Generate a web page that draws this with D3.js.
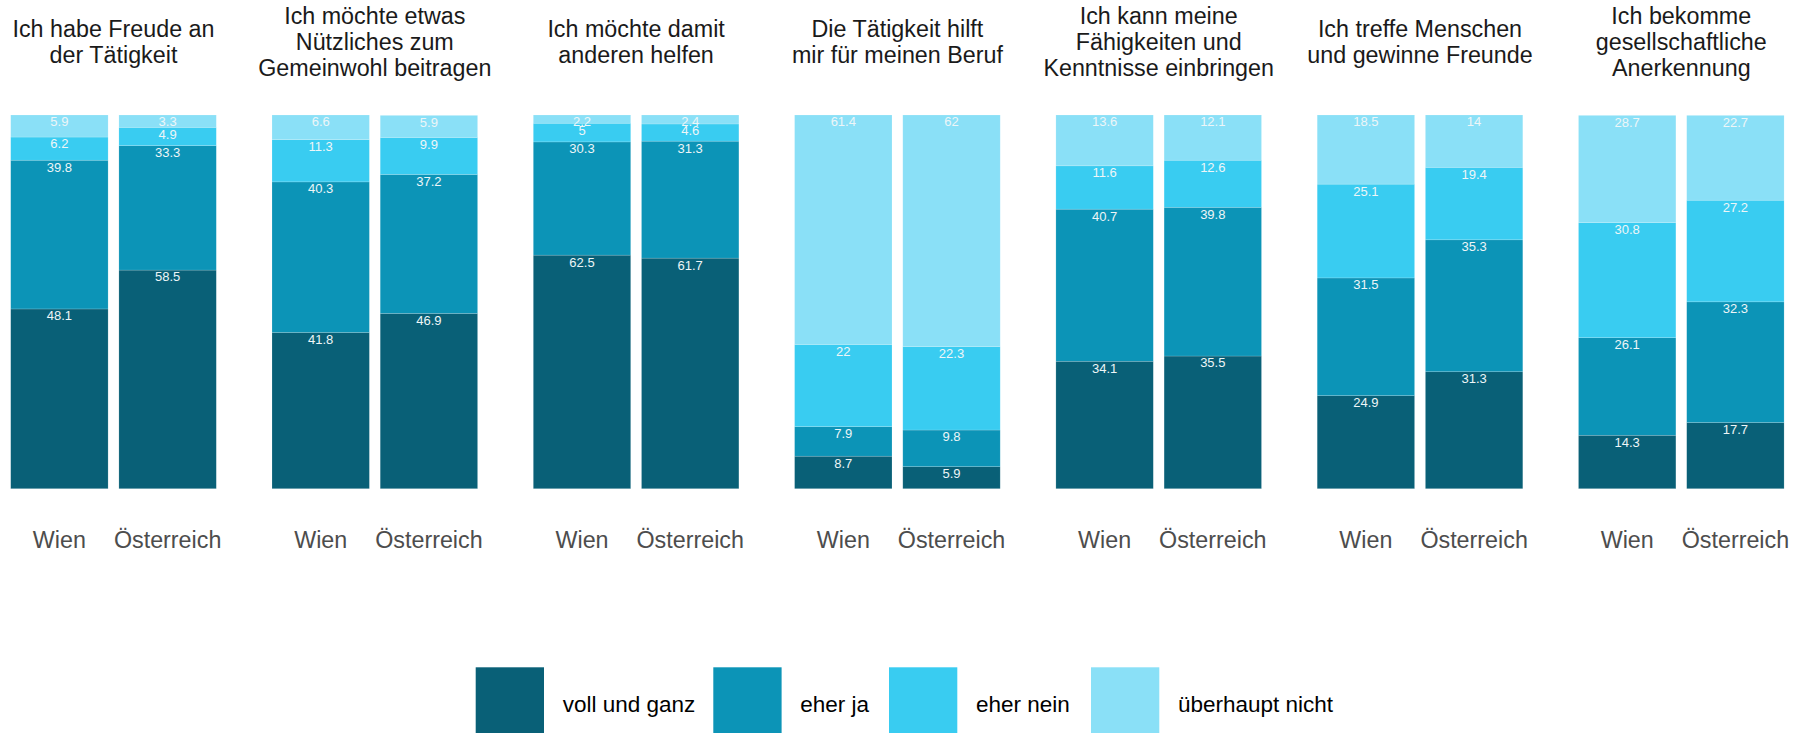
<!DOCTYPE html>
<html>
<head>
<meta charset="utf-8">
<script src="https://cdn.jsdelivr.net/npm/d3@7"></script>
<style>
  html, body { margin: 0; padding: 0; background: #ffffff; }
  svg { display: block; }
  text { font-family: "Liberation Sans", Arial, sans-serif; }
</style>
</head>
<body>
<svg id="chart" width="1804" height="733"></svg>
<script>
// ---- data ----
const questions = [
  "Ich habe Freude an\nder Tätigkeit",
  "Ich möchte etwas\nNützliches zum\nGemeinwohl beitragen",
  "Ich möchte damit\nanderen helfen",
  "Die Tätigkeit hilft\nmir für meinen Beruf",
  "Ich kann meine\nFähigkeiten und\nKenntnisse einbringen",
  "Ich treffe Menschen\nund gewinne Freunde",
  "Ich bekomme\ngesellschaftliche\nAnerkennung"
];
const regions = ["Wien", "Österreich"];
const answers = ["voll und ganz", "eher ja", "eher nein", "überhaupt nicht"];

// values per question: [Wien, Österreich], each in order of answers
const vollUndGanz    = [[48.1, 58.5], [41.8, 46.9], [62.5, 61.7], [8.7, 5.9],  [34.1, 35.5], [24.9, 31.3], [14.3, 17.7]];
const eherJa         = [[39.8, 33.3], [40.3, 37.2], [30.3, 31.3], [7.9, 9.8],  [40.7, 39.8], [31.5, 35.3], [26.1, 32.3]];
const eherNein       = [[6.2, 4.9],   [11.3, 9.9],  [5, 4.6],     [22, 22.3],  [11.6, 12.6], [25.1, 19.4], [30.8, 27.2]];
const ueberhauptNicht= [[5.9, 3.3],   [6.6, 5.9],   [2.2, 2.4],   [61.4, 62],  [13.6, 12.1], [18.5, 14],   [28.7, 22.7]];

const colors = ["#096077", "#0c94b7", "#39ccf1", "#8ae0f7"];

// ---- build table ----
const seriesArrays = [vollUndGanz, eherJa, eherNein, ueberhauptNicht];
const rows = [];
questions.forEach((q, qi) => {
  regions.forEach((r, ri) => {
    const row = { q, region: r };
    answers.forEach((a, ai) => { row[a] = seriesArrays[ai][qi][ri]; });
    rows.push(row);
  });
});
const stacked = d3.stack().keys(answers)(rows);

// ---- scales ----
const svg = d3.select("#chart");
const fx = d3.scaleBand().domain(questions).range([5.3, 1789.5]).paddingInner(0.1718).paddingOuter(0);
const x = d3.scaleBand().domain(regions).range([0, fx.bandwidth()]).paddingInner(0.1).paddingOuter(0.05);
const y = d3.scaleLinear().domain([0, 100]).range([488.7, 115]);
const color = d3.scaleOrdinal().domain(answers).range(colors);

// ---- bars ----
const layers = svg.append("g").selectAll("g").data(stacked).join("g")
  .attr("fill", d => color(d.key));

layers.selectAll("rect").data(d => d).join("rect")
  .attr("x", d => fx(d.data.q) + x(d.data.region))
  .attr("width", x.bandwidth())
  .attr("y", d => y(d[1]))
  .attr("height", d => y(d[0]) - y(d[1]))
  .attr("stroke", "rgba(255,255,255,0.25)")
  .attr("stroke-width", 0.6);

// ---- value labels ----
stacked.forEach(layer => {
  svg.append("g").selectAll("text").data(layer).join("text")
    .attr("x", d => fx(d.data.q) + x(d.data.region) + x.bandwidth() / 2)
    .attr("y", d => y(d[1]) + 11.4)
    .attr("text-anchor", "middle")
    .attr("font-size", 13)
    .attr("fill", "#eef6f8")
    .text(d => d.data[layer.key]);
});

// ---- facet titles ----
questions.forEach(q => {
  const lines = q.split("\n");
  const n = lines.length;
  const t = svg.append("text")
    .attr("text-anchor", "middle")
    .attr("font-size", 23.3)
    .attr("fill", "#1a1a1a");
  lines.forEach((ln, k) => {
    t.append("tspan")
      .attr("x", fx(q) + fx.bandwidth() / 2)
      .attr("y", 50 + (k - (n - 1) / 2) * 25.8)
      .text(ln);
  });
});

// ---- x axes ----
questions.forEach(q => {
  const g = svg.append("g").attr("transform", `translate(${fx(q)},0)`);
  const axis = d3.axisBottom(x).tickSize(0).tickPadding(0);
  g.attr("transform", `translate(${fx(q)},${531})`).call(axis);
  g.select(".domain").remove();
  g.selectAll("text")
    .attr("font-size", 23.3)
    .attr("fill", "#4d4d4d")
    .attr("dy", null)
    .attr("y", 17.3)
    .style("font-family", "'Liberation Sans', Arial, sans-serif");
});

// ---- legend ----
const legendX = [475.7, 713.3, 889, 1091];
const leg = svg.append("g");
answers.forEach((a, i) => {
  leg.append("rect")
    .attr("x", legendX[i]).attr("y", 667.3)
    .attr("width", 68.3).attr("height", 68.3)
    .attr("fill", color(a));
  leg.append("text")
    .attr("x", legendX[i] + 68.3 + 18.7)
    .attr("y", 711.7)
    .attr("font-size", 22.5)
    .attr("fill", "#000000")
    .text(a);
});
</script>
</body>
</html>
